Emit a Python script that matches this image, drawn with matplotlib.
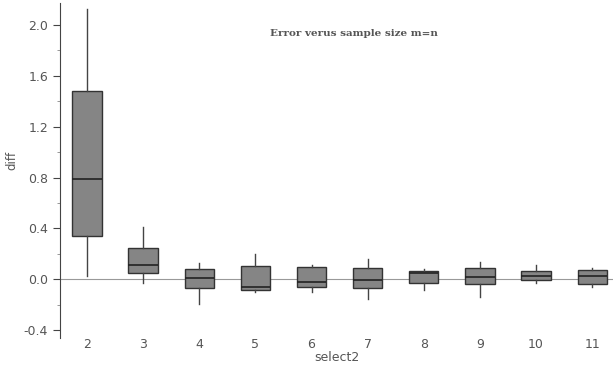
import matplotlib.pyplot as plt
import numpy as np

# sample sizes and box stats
groups = [2, 3, 4, 5, 6, 7, 8, 9, 10, 11]
whislo = [0.03, -0.03, -0.19, -0.095, -0.10, -0.15, -0.08, -0.14, -0.03, -0.057]
q1 = [0.34, 0.05, -0.07, -0.08, -0.057, -0.068, -0.03, -0.034, -0.008, -0.037]
med = [0.79, 0.11, 0.01, -0.06, -0.02, -0.005, 0.053, 0.018, 0.024, 0.026]
q3 = [1.48, 0.245, 0.085, 0.105, 0.097, 0.09, 0.063, 0.087, 0.063, 0.073]
whishi = [2.12, 0.41, 0.13, 0.20, 0.11, 0.157, 0.08, 0.14, 0.115, 0.09]

stats = []
for i in range(len(groups)):
    stats.append({'whislo': whislo[i], 'q1': q1[i], 'med': med[i],
                  'q3': q3[i], 'whishi': whishi[i], 'label': str(groups[i])})

fig = plt.figure(figsize=(6.13, 3.71), dpi=100)
ax = fig.add_axes([60 / 613, 1 - 338 / 371, 1 - 60 / 613, 335 / 371])

ax.axhline(0, color='#999999', lw=0.8, zorder=0)
ax.bxp(stats, positions=groups, widths=0.52, showfliers=False, showcaps=False,
       patch_artist=True,
       boxprops=dict(facecolor='#858585', edgecolor='#333333', lw=1),
       medianprops=dict(color='#222222', lw=1.2),
       whiskerprops=dict(color='#444444', lw=1))

ax.set_xlim(1.52, 11.37)
ax.set_ylim(-0.46, 2.17)
ax.set_yticks([-0.4, 0.0, 0.4, 0.8, 1.2, 1.6, 2.0])
ax.set_yticklabels(['-0.4', '0.0', '0.4', '0.8', '1.2', '1.6', '2.0'])
ax.set_yticks(np.arange(-0.2, 2.1, 0.4), minor=True)
ax.tick_params(axis='y', which='major', length=5, color='#444444', labelsize=9, labelcolor='#555555')
ax.tick_params(axis='y', which='minor', length=2, color='#888888')
ax.tick_params(axis='x', length=0, labelsize=9, labelcolor='#555555', pad=0)

for s in ['top', 'right', 'bottom']:
    ax.spines[s].set_visible(False)
ax.spines['left'].set_color('#444444')

ax.set_ylabel('diff', fontsize=8.5, color='#555555')
ax.yaxis.set_label_coords(-0.076, 0.53)
ax.set_xlabel('select2', fontsize=9, color='#555555', labelpad=0)
ax.text(0.532, 0.91, 'Error verus sample size m=n', transform=ax.transAxes,
        ha='center', va='center', fontsize=7.5, fontweight='bold',
        family='DejaVu Serif', color='#555555')

fig.savefig('out.png', dpi=100)
